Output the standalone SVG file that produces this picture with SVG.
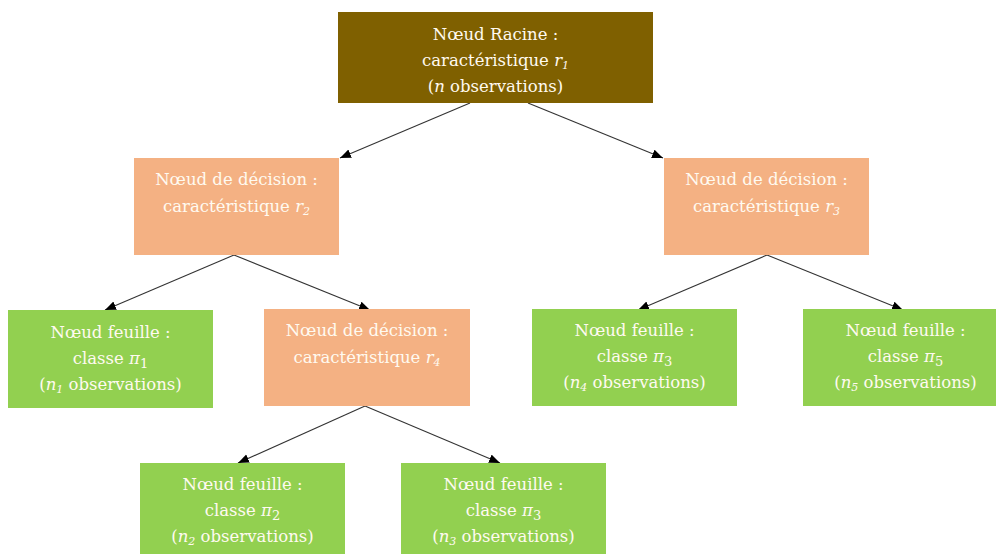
<svg xmlns="http://www.w3.org/2000/svg" width="996" height="554" viewBox="0 0 996 554">
<defs>
<style>
.root{fill:#7F6000;}
.dec{fill:#F4B183;}
.leaf{fill:#92D050;}
text{font-family:"DejaVu Serif","Liberation Serif",serif;font-size:16.5px;fill:#FFFAF0;text-anchor:middle;}
.it{font-style:italic;}
.sb{font-size:11px;}
.sm{font-size:13px;}
.conn{stroke:#333333;stroke-width:1.1;fill:none;marker-end:url(#ah);}
</style>
<marker id="ah" markerUnits="userSpaceOnUse" markerWidth="12" markerHeight="10" refX="11" refY="4.5" orient="auto">
<path d="M0,0 L11,4.5 L0,9 z" fill="#000000"/>
</marker>
</defs>
<rect width="996" height="554" fill="#ffffff"/>
<g id="connectors">
<line class="conn" x1="470" y1="103" x2="340" y2="158"/>
<line class="conn" x1="528" y1="103" x2="663" y2="158"/>
<line class="conn" x1="234" y1="255" x2="105" y2="310"/>
<line class="conn" x1="234" y1="255" x2="370" y2="310"/>
<line class="conn" x1="767" y1="255" x2="638" y2="310"/>
<line class="conn" x1="767" y1="255" x2="903" y2="310"/>
<line class="conn" x1="365" y1="406" x2="238" y2="463"/>
<line class="conn" x1="365" y1="406" x2="500" y2="463"/>
</g>
<g id="root">
<rect class="root" x="338" y="12" width="315" height="91"/>
<text x="495.5" y="40">Nœud Racine :</text>
<text x="495.5" y="66">caractéristique <tspan class="it">r</tspan><tspan class="it sb" dy="3">1</tspan></text>
<text x="495.5" y="92">(<tspan class="it">n</tspan> observations)</text>
</g>
<g id="dec-r2">
<rect class="dec" x="134" y="158" width="205" height="97"/>
<text x="236.5" y="185">Nœud de décision :</text>
<text x="236.5" y="212">caractéristique <tspan class="it">r</tspan><tspan class="it sb" dy="3">2</tspan></text>
</g>
<g id="dec-r3">
<rect class="dec" x="664" y="158" width="205" height="97"/>
<text x="766.5" y="185">Nœud de décision :</text>
<text x="766.5" y="212">caractéristique <tspan class="it">r</tspan><tspan class="it sb" dy="3">3</tspan></text>
</g>
<g id="leaf-pi1">
<rect class="leaf" x="8" y="310" width="205" height="98"/>
<text x="110.5" y="338">Nœud feuille :</text>
<text x="110.5" y="364">classe <tspan class="it">π</tspan><tspan class="sm" dy="4">1</tspan></text>
<text x="110.5" y="390">(<tspan class="it">n</tspan><tspan class="it sb" dy="3">1</tspan><tspan dy="-3"> observations)</tspan></text>
</g>
<g id="dec-r4">
<rect class="dec" x="264" y="309" width="206" height="97"/>
<text x="367" y="336">Nœud de décision :</text>
<text x="367" y="363">caractéristique <tspan class="it">r</tspan><tspan class="it sb" dy="3">4</tspan></text>
</g>
<g id="leaf-pi3a">
<rect class="leaf" x="532" y="309" width="205" height="97"/>
<text x="634.5" y="336">Nœud feuille :</text>
<text x="634.5" y="362">classe <tspan class="it">π</tspan><tspan class="sm" dy="4">3</tspan></text>
<text x="634.5" y="388">(<tspan class="it">n</tspan><tspan class="it sb" dy="3">4</tspan><tspan dy="-3"> observations)</tspan></text>
</g>
<g id="leaf-pi5">
<rect class="leaf" x="803" y="309" width="193" height="97"/>
<text x="905.5" y="336">Nœud feuille :</text>
<text x="905.5" y="362">classe <tspan class="it">π</tspan><tspan class="sm" dy="4">5</tspan></text>
<text x="905.5" y="388">(<tspan class="it">n</tspan><tspan class="it sb" dy="3">5</tspan><tspan dy="-3"> observations)</tspan></text>
</g>
<g id="leaf-pi2">
<rect class="leaf" x="140" y="463" width="205" height="91"/>
<text x="242.5" y="490">Nœud feuille :</text>
<text x="242.5" y="516">classe <tspan class="it">π</tspan><tspan class="sm" dy="4">2</tspan></text>
<text x="242.5" y="542">(<tspan class="it">n</tspan><tspan class="it sb" dy="3">2</tspan><tspan dy="-3"> observations)</tspan></text>
</g>
<g id="leaf-pi3b">
<rect class="leaf" x="401" y="463" width="205" height="91"/>
<text x="503.5" y="490">Nœud feuille :</text>
<text x="503.5" y="516">classe <tspan class="it">π</tspan><tspan class="sm" dy="4">3</tspan></text>
<text x="503.5" y="542">(<tspan class="it">n</tspan><tspan class="it sb" dy="3">3</tspan><tspan dy="-3"> observations)</tspan></text>
</g>
</svg>
